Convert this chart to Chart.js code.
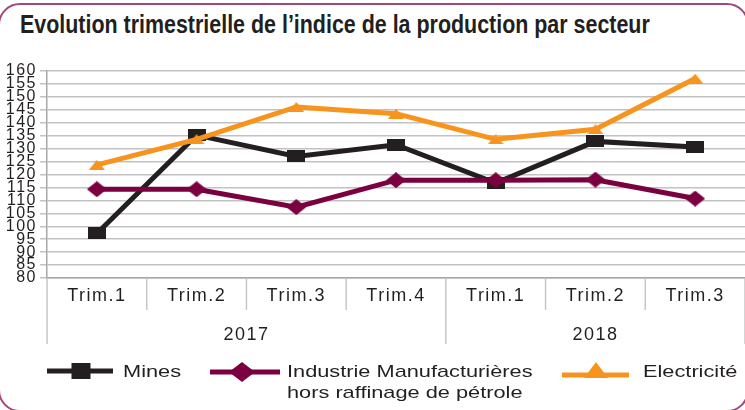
<!DOCTYPE html>
<html lang="fr">
<head>
  <meta charset="UTF-8">
  <title>Evolution trimestrielle de l'indice de la production par secteur</title>
  <script src="https://cdn.jsdelivr.net/npm/chart.js"></script>
  <style>
    body {
      margin: 0;
      width: 745px;
      height: 410px;
      overflow: hidden;
      position: relative;
      background: #fff;
      font-family: 'Liberation Sans', Arial, sans-serif;
      color: #231f20;
    }

    #frame {
      position: absolute;
      left: -2px;
      top: 3px;
      width: 747px;
      height: 405px;
      border: 2px solid #a3477a;
      border-radius: 22px;
    }

    h1 {
      position: absolute;
      left: 20px;
      top: 9px;
      margin: 0;
      font-weight: 700;
      font-size: 25px;
      line-height: 30px;
      white-space: nowrap;
      transform: scaleX(0.857);
      transform-origin: 0 0;
    }

    #chart-container {
      position: absolute;
      left: 0;
      top: 0;
      width: 745px;
      height: 410px;
    }

    .legend-icon {
      position: absolute;
    }

    .legend-text {
      position: absolute;
      font-size: 17px;
      line-height: 21px;
      white-space: nowrap;
      transform: scaleX(1.28);
      transform-origin: 0 0;
    }
  </style>
</head>
<body>
  <div id="frame"></div>
  <h1>Evolution trimestrielle de l’indice de la production par secteur</h1>

  <div id="chart-container">
    <canvas id="lineChart"></canvas>
  </div>

  <svg class="legend-icon" style="left:47px; top:361px" width="66" height="20">
    <rect x="0" y="7.5" width="66" height="5" fill="#231f20"/>
    <rect x="24.5" y="2" width="19" height="16" fill="#231f20"/>
  </svg>
  <div class="legend-text" style="left:123px; top:361px">Mines</div>

  <svg class="legend-icon" style="left:210px; top:361px" width="70" height="22">
    <rect x="0" y="8.5" width="70" height="5" fill="#7a0040"/>
    <polygon points="19,11 32,1 45,11 32,21" fill="#7a0040"/>
  </svg>
  <div class="legend-text" style="left:287px; top:361px">Industrie Manufacturières<br>hors raffinage de pétrole</div>

  <svg class="legend-icon" style="left:562px; top:361px" width="67" height="20">
    <rect x="0" y="11.5" width="67" height="5" fill="#f7941d"/>
    <polygon points="22,17 34,1 46,17" fill="#f7941d"/>
  </svg>
  <div class="legend-text" style="left:643px; top:361px">Electricité</div>

  <script>
    // libellés de l'axe des x
    const quarters = ['Trim.1', 'Trim.2', 'Trim.3', 'Trim.4', 'Trim.1', 'Trim.2', 'Trim.3'];
    const years = ['2017', '2018'];
    const quartersPerYear = [4, 3];

    // indices
    const mines = [97.2, 135.2, 127, 131.5, 116.7, 132.8, 130.6];
    const industrie = [114.3, 114.3, 107.4, 117.8, 117.8, 118, 110.7];
    const electricite = [123.7, 133.6, 146.1, 143.5, 133.6, 137.5, 157.1];

    const yMin = 80;
    const yMax = 160;
    const yStep = 5;

    // petits marqueurs aplatis comme sur l'original
    function marker(w, h, color, shape) {
      const c = document.createElement('canvas');
      c.width = w;
      c.height = h;
      const g = c.getContext('2d');
      g.fillStyle = color;
      g.beginPath();
      if (shape === 'square') {
        g.rect(0, 0, w, h);
      } else if (shape === 'diamond') {
        g.moveTo(0, h / 2);
        g.lineTo(w / 2, 0);
        g.lineTo(w, h / 2);
        g.lineTo(w / 2, h);
      } else {
        g.moveTo(0, h);
        g.lineTo(w / 2, 0);
        g.lineTo(w, h);
      }
      g.closePath();
      g.fill();
      return c;
    }

    const letterSpacing = {
      id: 'letterSpacing',
      beforeDraw(chart) {
        chart.ctx.letterSpacing = '1.5px';
      }
    };

    // séparateurs sous l'axe et années
    const yearAxis = {
      id: 'yearAxis',
      afterDraw(chart) {
        const ctx = chart.ctx;
        const x = chart.scales.x;
        const bottom = chart.chartArea.bottom;
        const half = (x.getPixelForValue(1) - x.getPixelForValue(0)) / 2;
        const starts = [0];
        quartersPerYear.forEach((n, i) => starts.push(starts[i] + n));

        ctx.save();
        ctx.strokeStyle = '#c6c6c6';
        ctx.lineWidth = 1.5;
        for (let i = 0; i <= quarters.length; i++) {
          const px = x.getPixelForValue(i) - half;
          const long = starts.includes(i);
          ctx.beginPath();
          ctx.moveTo(px, bottom);
          ctx.lineTo(px, long ? 344 : 310);
          ctx.stroke();
        }

        ctx.fillStyle = '#231f20';
        ctx.font = '18px "Liberation Sans", Arial, sans-serif';
        ctx.textAlign = 'center';
        ctx.textBaseline = 'middle';
        years.forEach((year, i) => {
          const left = x.getPixelForValue(starts[i]) - half;
          const right = x.getPixelForValue(starts[i + 1]) - half;
          ctx.fillText(year, (left + right) / 2, 335);
        });
        ctx.restore();
      }
    };

    new Chart(document.getElementById('lineChart'), {
      type: 'line',
      data: {
        labels: quarters,
        datasets: [{
          label: 'Mines',
          data: mines,
          borderColor: '#231f20',
          backgroundColor: '#231f20',
          borderWidth: 5,
          pointStyle: marker(18, 12, '#231f20', 'square'),
          order: 3,
          tension: 0
        },
        {
          label: 'Industrie Manufacturières hors raffinage de pétrole',
          data: industrie,
          borderColor: '#7a0040',
          backgroundColor: '#7a0040',
          borderWidth: 5,
          pointStyle: marker(20, 16, '#7a0040', 'diamond'),
          order: 2,
          tension: 0
        },
        {
          label: 'Electricité',
          data: electricite,
          borderColor: '#f7941d',
          backgroundColor: '#f7941d',
          borderWidth: 5,
          pointStyle: marker(16, 10, '#f7941d', 'triangle'),
          order: 1,
          tension: 0
        }]
      },
      options: {
        responsive: true,
        maintainAspectRatio: false,
        animation: false,
        layout: {
          autoPadding: false,
          padding: { top: 71, right: 0, bottom: 0, left: 0 }
        },
        plugins: {
          legend: { display: false },
          tooltip: { enabled: false }
        },
        scales: {
          x: {
            offset: true,
            afterFit: (scale) => {
              scale.height = 132;
              scale.paddingLeft = 0;
              scale.paddingRight = 0;
            },
            grid: {
              display: true,
              drawOnChartArea: false,
              drawTicks: false,
              offset: true,
              color: '#c6c6c6'
            },
            border: { color: '#a8a8a8', width: 1.5 },
            ticks: {
              padding: 7,
              color: '#231f20',
              font: { family: 'Liberation Sans', size: 18 }
            }
          },
          y: {
            min: yMin,
            max: yMax,
            afterFit: (scale) => { scale.width = 47; },
            grid: {
              color: '#c2c2c2',
              lineWidth: 1.5,
              tickLength: 7
            },
            border: { color: '#a8a8a8', width: 1.5 },
            ticks: {
              stepSize: yStep,
              autoSkip: false,
              padding: 3,
              color: '#231f20',
              font: { family: 'Liberation Sans', size: 16 }
            }
          }
        }
      },
      plugins: [letterSpacing, yearAxis]
    });
  </script>
</body>
</html>
